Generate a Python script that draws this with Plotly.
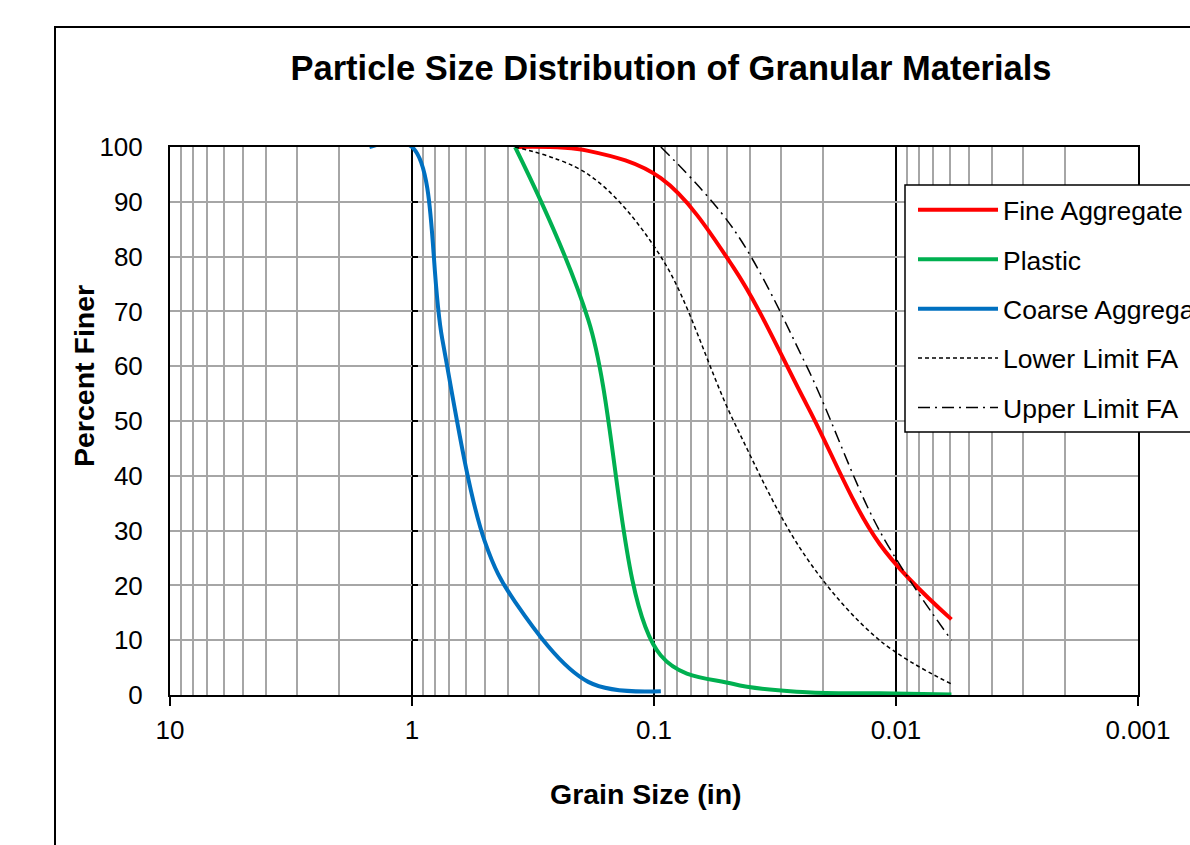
import plotly.graph_objects as go

# Sieve sizes (in)
coarse_size = [1.5, 1.0, 0.75, 0.5, 0.375, 0.187, 0.0937]
coarse_pct = [100, 100, 65, 28, 17, 2.4, 0.7]

fa_size = [0.375, 0.187, 0.0937, 0.0469, 0.0234, 0.0117, 0.0059]
fine_pct = [100, 99.3, 94.3, 78, 53, 27.6, 13.8]
plastic_pct = [100, 68.5, 7.2, 2.0, 0.5, 0.3, 0.1]
lower_pct = [100, 95, 80, 50, 25, 10, 2]

upper_size = [0.0937, 0.0469, 0.0234, 0.0117, 0.0059]
upper_pct = [100, 85, 60, 30, 10]

x_tickvals = [10, 1, 0.1, 0.01, 0.001]
x_ticktext = ["10", "1", "0.1", "0.01", "0.001"]

FONT = "Liberation Sans, Arial, sans-serif"
W, H = 1190, 845
L, R, T, B = 170, 1138, 147, 695
PW, PH = R - L, B - T

fig = go.Figure()
fig.add_trace(go.Scatter(x=fa_size, y=fine_pct, mode="lines", name="Fine Aggregate",
                         line=dict(color="#FF0000", width=4, shape="spline"), legendgroup="a"))
fig.add_trace(go.Scatter(x=fa_size, y=plastic_pct, mode="lines", name="Plastic",
                         line=dict(color="#00B050", width=4, shape="spline"), legendgroup="b"))
fig.add_trace(go.Scatter(x=coarse_size, y=coarse_pct, mode="lines", name="Coarse Aggregate",
                         line=dict(color="#0070C0", width=4, shape="spline"), legendgroup="c"))
fig.add_trace(go.Scatter(x=fa_size, y=lower_pct, mode="lines", name="Lower Limit FA",
                         line=dict(color="black", width=1.5, dash="4px,3px", shape="spline"), legendgroup="d"))
fig.add_trace(go.Scatter(x=upper_size, y=upper_pct, mode="lines", name="Upper Limit FA",
                         line=dict(color="black", width=1.5, dash="12px,5px,2px,5px", shape="spline"), legendgroup="e"))
# invisible trace to carry y-axis tick marks at x = 1
fig.add_trace(go.Scatter(x=[1, 1], y=[0, 100], mode="lines", yaxis="y2", showlegend=False,
                         line=dict(width=0), hoverinfo="skip"))

fig.update_layout(
    width=W, height=H,
    margin=dict(l=L, r=W - R, t=T, b=H - B, autoexpand=False),
    paper_bgcolor="white", plot_bgcolor="white",
    font=dict(family=FONT, size=26, color="black"),
    title=dict(text="<b>Particle Size Distribution of Granular Materials</b>",
               font=dict(family=FONT, size=34.5, color="black"),
               xref="paper", x=(671 - L) / PW, xanchor="center",
               yref="container", y=1 - 68 / H, yanchor="middle"),
    xaxis=dict(type="log", range=[1, -3], tickvals=x_tickvals, ticktext=x_ticktext,
               showgrid=True, gridcolor="black", gridwidth=1.5,
               minor=dict(dtick="D1", showgrid=True, gridcolor="#A6A6A6", gridwidth=1.5, ticks=""),
               showline=True, linecolor="black", linewidth=2, mirror=True,
               ticks="outside", ticklen=9, tickwidth=2, tickcolor="black",
               ticklabelstandoff=2, zeroline=False, automargin=False,
               tickfont=dict(size=26)),
    yaxis=dict(range=[0, 100], dtick=10, showgrid=True, gridcolor="#A6A6A6", gridwidth=1.5,
               showline=True, linecolor="black", linewidth=2, mirror=True,
               ticks="", ticklabelstandoff=20, zeroline=False, automargin=False,
               tickfont=dict(size=26)),
    yaxis2=dict(range=[0, 100], dtick=10, overlaying="y", anchor="free",
                position=(411 - L) / PW, side="left", showgrid=False, showline=False,
                ticks="inside", ticklen=6, tickwidth=2, tickcolor="black",
                showticklabels=False, zeroline=False),
    legend=dict(x=(913 - L) / PW, y=(B - 186) / PH, xanchor="left", yanchor="top",
                borderwidth=0, bgcolor="rgba(255,255,255,0)",
                font=dict(family=FONT, size=26.5), tracegroupgap=12, itemwidth=80,
                traceorder="grouped"),
    showlegend=True,
)

fig.add_annotation(text="<b>Percent Finer</b>", xref="paper", yref="paper",
                   x=(84 - L) / PW, y=(B - 376) / PH, textangle=-90,
                   showarrow=False, font=dict(family=FONT, size=28.5), xanchor="center", yanchor="middle")
fig.add_annotation(text="<b>Grain Size (in)</b>", xref="paper", yref="paper",
                   x=(646 - L) / PW, y=(B - 794) / PH,
                   showarrow=False, font=dict(family=FONT, size=28.5), xanchor="center", yanchor="middle")

# outer chart-area border
fig.add_shape(type="rect", xref="paper", yref="paper",
              x0=(55 - L) / PW, x1=3, y0=-3, y1=(B - 27) / PH,
              line=dict(color="black", width=2), fillcolor="rgba(0,0,0,0)", layer="below")
# legend box (opaque, bordered)
fig.add_shape(type="rect", xref="paper", yref="paper",
              x0=(905 - L) / PW, x1=(1250 - L) / PW, y0=(B - 432) / PH, y1=(B - 185) / PH,
              line=dict(color="black", width=1.5), fillcolor="white", layer="above")

fig.write_html("out.html")
